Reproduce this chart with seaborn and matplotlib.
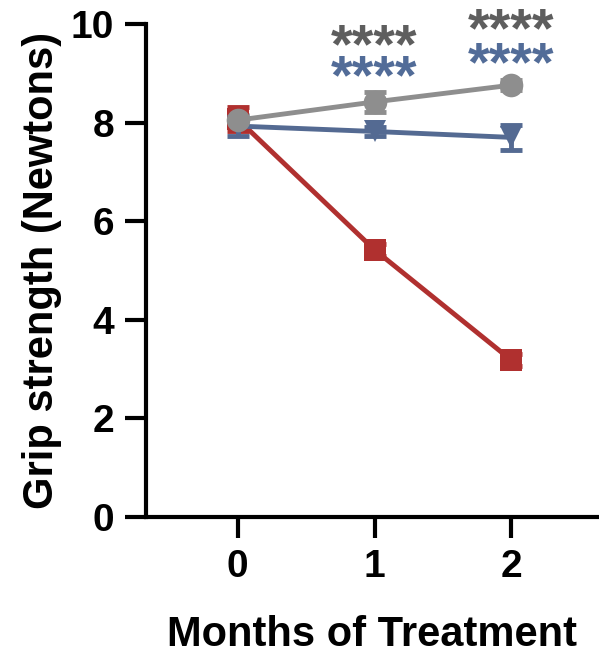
import matplotlib
matplotlib.use("Agg")
import matplotlib.pyplot as plt
import seaborn as sns
import pandas as pd

months = [0, 1, 2]
red_vals = [8.07, 5.42, 3.18]
red_err = [0.25, 0.12, 0.12]
blue_vals = [7.93, 7.82, 7.70]
blue_err = [0.20, 0.10, 0.25]
gray_vals = [8.05, 8.42, 8.76]
gray_err = [0.10, 0.20, 0.10]

star_x = [1, 2]
star_gray_y = [9.23, 9.55]
star_blue_y = [8.60, 8.86]
star_text = "****"

RED = "#B0302F"
BLUE = "#546A92"
GRAY = "#8E8E8E"
STAR_GRAY = "#5E5E5E"
STAR_BLUE = "#526C98"

sns.set_style("ticks")
plt.rcParams["font.family"] = ["Liberation Sans", "DejaVu Sans"]
plt.rcParams["font.weight"] = "bold"
plt.rcParams["text.color"] = "black"
plt.rcParams["axes.labelcolor"] = "black"
plt.rcParams["xtick.color"] = "black"
plt.rcParams["ytick.color"] = "black"

fig = plt.figure(figsize=(5.99, 6.56), dpi=100)
ax = fig.add_axes([0.2437, 0.2119, 0.7563, 0.7515])

series = [
    ("red", red_vals, red_err, RED, "s", 16),
    ("blue", blue_vals, blue_err, BLUE, "v", 16),
    ("gray", gray_vals, gray_err, GRAY, "o", 17),
]
for name, vals, err, col, mk, ms in series:
    df = pd.DataFrame({"x": months, "y": vals})
    ax.errorbar(months, vals, yerr=err, fmt="none", ecolor=col,
                elinewidth=3.5, capsize=8, capthick=3.5, zorder=2)
    sns.lineplot(data=df, x="x", y="y", ax=ax, color=col, linewidth=3.5,
                 marker=mk, markersize=ms, markeredgewidth=0, zorder=3)

for x, yg, yb in zip(star_x, star_gray_y, star_blue_y):
    ax.text(x, yg, star_text, color=STAR_GRAY, fontsize=40, fontweight="bold",
            ha="center", va="baseline", clip_on=False)
    ax.text(x, yb, star_text, color=STAR_BLUE, fontsize=40, fontweight="bold",
            ha="center", va="baseline", clip_on=False)

ax.set_xlim(-0.67, 2.64)
ax.set_ylim(0, 10)
ax.set_xticks(months)
ax.set_yticks([0, 2, 4, 6, 8, 10])
ax.tick_params(axis="both", length=15, width=3, labelsize=28, pad=8, color="black")
for lab in ax.get_xticklabels() + ax.get_yticklabels():
    lab.set_fontweight("bold")
for s in ["left", "bottom"]:
    ax.spines[s].set_linewidth(3)
    ax.spines[s].set_color("black")
ax.spines["top"].set_visible(False)
ax.spines["right"].set_visible(False)
ax.set_xlabel("Months of Treatment", fontsize=30, fontweight="bold", labelpad=22)
ax.set_ylabel("Grip strength (Newtons)", fontsize=30, fontweight="bold", labelpad=6)

fig.savefig("out.png", dpi=100)
